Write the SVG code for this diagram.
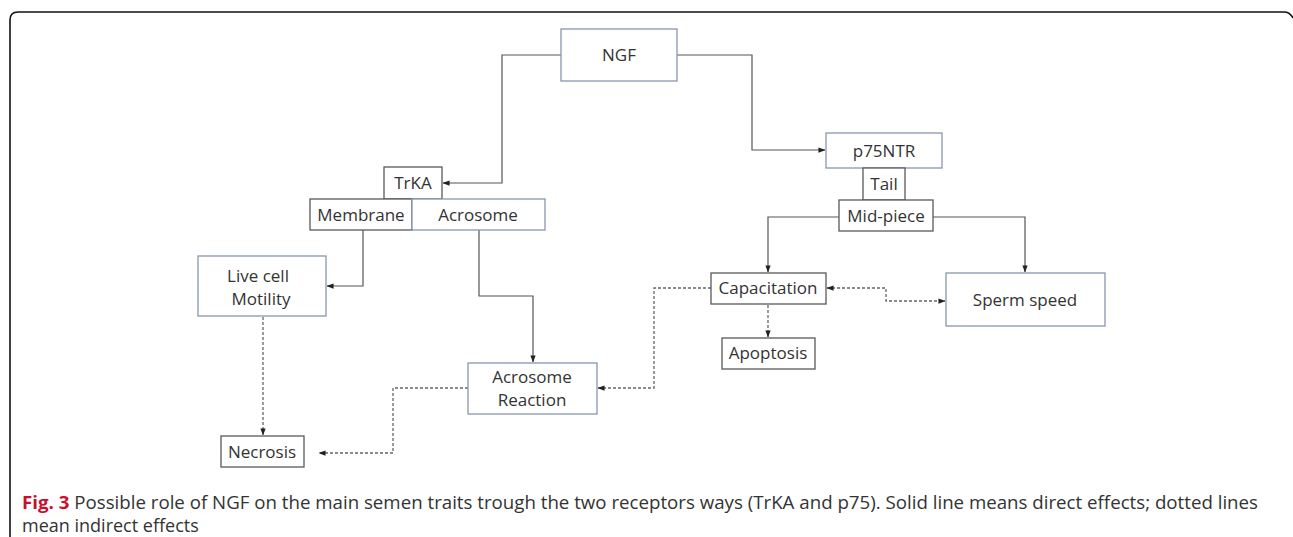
<svg xmlns="http://www.w3.org/2000/svg" width="1293" height="537" viewBox="0 0 1293 537">
<style>
.bx{fill:#fff;stroke:#595959;stroke-width:1.3}
.bb{fill:#fff;stroke:#8797ad;stroke-width:1.3}
.t{font-family:"Open Sans","Liberation Sans",sans-serif;font-size:17px;fill:#333;text-anchor:middle}
.s{fill:none;stroke:#555;stroke-width:1.2}
.d{fill:none;stroke:#666;stroke-width:1.3;stroke-dasharray:3 2}
.cap{font-family:"Open Sans","Liberation Sans",sans-serif;font-size:18px;fill:#333}
</style>
<defs>
<marker id="ah" viewBox="0 0 8 8" refX="7.5" refY="4" markerWidth="7" markerHeight="7" markerUnits="userSpaceOnUse" orient="auto-start-reverse">
<path d="M0,1 L8,4 L0,7 Z" fill="#222"/>
</marker>
</defs>
<rect width="1293" height="537" fill="#fff"/>
<path d="M10,537 L10,20 Q10,12 18,12 L1284,12 Q1290,12 1293,18" fill="none" stroke="#111" stroke-width="1.6"/>
<g id="connectors">
<path class="s" d="M561,55 H502 V183 H443" marker-end="url(#ah)"/>
<path class="s" d="M677,55 H752 V150 H825" marker-end="url(#ah)"/>
<path class="s" d="M363,230 V286 H327" marker-end="url(#ah)"/>
<path class="s" d="M479,230 V296 H533 V362" marker-end="url(#ah)"/>
<path class="s" d="M839,217 H768 V272" marker-end="url(#ah)"/>
<path class="s" d="M933,217 H1025 V272" marker-end="url(#ah)"/>
<path class="d" d="M263,317 V435" marker-end="url(#ah)"/>
<path class="d" d="M468,388 H393 V453 H319" marker-end="url(#ah)"/>
<path class="d" d="M711,288 H654 V388 H598" marker-end="url(#ah)"/>
<path class="d" d="M768,305 V337" marker-end="url(#ah)"/>
<path class="d" d="M827,288 H886 V301 H945" marker-start="url(#ah)" marker-end="url(#ah)"/>
</g>
<g id="ngf"><rect class="bb" x="561" y="29" width="116" height="52"/><text class="t" x="619" y="61">NGF</text></g>
<g id="trka"><rect class="bx" x="384" y="167" width="58" height="32"/><text class="t" x="413" y="189">TrKA</text></g>
<g id="membrane"><rect class="bx" x="310" y="199" width="102" height="31"/><text class="t" x="361" y="221">Membrane</text></g>
<g id="acrosome"><rect class="bb" x="412" y="199" width="133" height="31"/><text class="t" x="478" y="221">Acrosome</text></g>
<g id="livecell"><rect class="bb" x="198" y="256" width="128" height="60"/><text class="t" x="258" y="282">Live cell</text><text class="t" x="261" y="305">Motility</text></g>
<g id="necrosis"><rect class="bx" x="221" y="436" width="83" height="31"/><text class="t" x="262" y="458">Necrosis</text></g>
<g id="acrosomereaction"><rect class="bb" x="468" y="363" width="129" height="51"/><text class="t" x="532" y="383">Acrosome</text><text class="t" x="532" y="406">Reaction</text></g>
<g id="p75ntr"><rect class="bb" x="826" y="133" width="116" height="35"/><text class="t" x="884" y="157">p75NTR</text></g>
<g id="tail"><rect class="bx" x="863" y="168" width="42" height="32"/><text class="t" x="884" y="190">Tail</text></g>
<g id="midpiece"><rect class="bx" x="839" y="200" width="94" height="31"/><text class="t" x="886" y="222">Mid-piece</text></g>
<g id="capacitation"><rect class="bx" x="711" y="273" width="115" height="31"/><text class="t" x="768" y="294">Capacitation</text></g>
<g id="apoptosis"><rect class="bx" x="722" y="338" width="93" height="31"/><text class="t" x="768" y="359">Apoptosis</text></g>
<g id="spermspeed"><rect class="bb" x="946" y="273" width="159" height="53"/><text class="t" x="1025" y="306">Sperm speed</text></g>
<g id="caption">
<text class="cap" x="22" y="509" textLength="1236" lengthAdjust="spacingAndGlyphs"><tspan font-weight="bold" fill="#c8102e">Fig. 3</tspan> Possible role of NGF on the main semen traits trough the two receptors ways (TrKA and p75). Solid line means direct effects; dotted lines</text>
<text class="cap" x="22" y="532">mean indirect effects</text>
</g>
</svg>
